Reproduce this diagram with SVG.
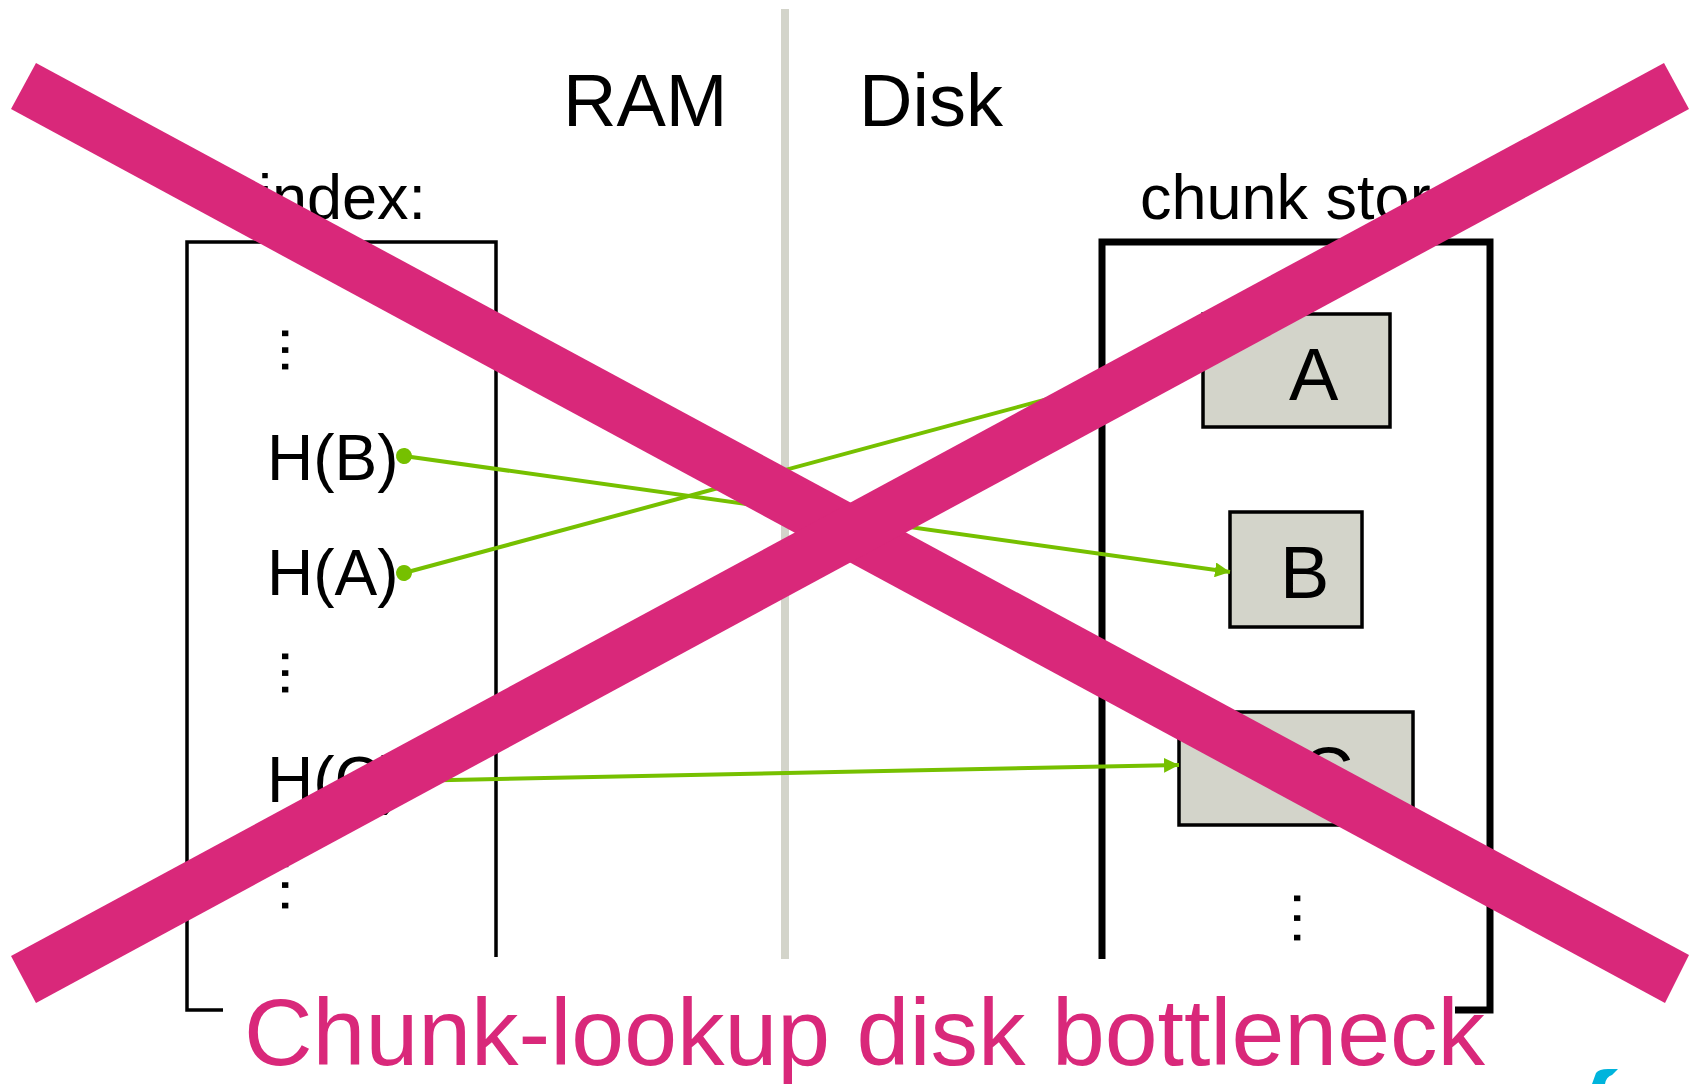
<svg xmlns="http://www.w3.org/2000/svg" width="1690" height="1084" viewBox="0 0 1690 1084">
  <style>
    text { font-family: "Liberation Sans", Arial, sans-serif; fill: #000; }
    .hdr { font-size: 74px; }
    .lbl { font-size: 63px; }
    .hash { font-size: 64px; }
    .dots { font-size: 60px; }
    .chunk-letter { font-size: 74px; }
    .frame { fill: none; stroke: #000; stroke-linejoin: miter; }
    .chunk { fill: #d3d4ca; stroke: #000; stroke-width: 3.5; }
    .ptr { fill: none; stroke: #76c000; stroke-width: 4; marker-start: url(#dot); marker-end: url(#arrow); }
    .cross { fill: #d9287a; }
    .caption { font-size: 95px; fill: #d9287a; }
  </style>
  <defs>
    <marker id="arrow" markerUnits="userSpaceOnUse" markerWidth="16" markerHeight="15" refX="15" refY="7.5" orient="auto">
      <path d="M0,0 L15,7.5 L0,15 Z" fill="#76c000"/>
    </marker>
    <marker id="dot" markerUnits="userSpaceOnUse" markerWidth="18" markerHeight="18" refX="9" refY="9" orient="auto">
      <circle cx="9" cy="9" r="8" fill="#76c000"/>
    </marker>
  </defs>

  <rect width="1690" height="1084" fill="#fff"/>

  <!-- RAM / Disk divider -->
  <g id="divider">
    <rect x="781" y="9" width="8" height="950" fill="#d3d4ca"/>
    <text class="hdr" x="563" y="126">RAM</text>
    <text class="hdr" x="859" y="126">Disk</text>
  </g>

  <!-- in-memory index -->
  <g id="index">
    <text class="lbl" x="258" y="219">index:</text>
    <path class="frame" stroke-width="3.5" d="M223,1010 H187 V242 H496 V957"/>
    <text class="dots" transform="rotate(90 282 325)" x="282" y="325">...</text>
    <text class="hash" x="267" y="480">H(B)</text>
    <text class="hash" x="267" y="595">H(A)</text>
    <text class="dots" transform="rotate(90 282 648)" x="282" y="648">...</text>
    <text class="hash" x="267" y="802">H(C)</text>
    <text class="dots" transform="rotate(90 282 856)" x="282" y="856" letter-spacing="4">...</text>
  </g>

  <!-- on-disk chunk store -->
  <g id="chunk-store">
    <text class="lbl" x="1140" y="219">chunk store:</text>
    <path class="frame" stroke-width="7" d="M1102,959 V242 H1490 V1010 H1455"/>
    <text class="dots" transform="rotate(90 1294 890)" x="1294" y="890" letter-spacing="3">...</text>
  </g>

  <g id="chunk-A">
    <rect class="chunk" x="1203" y="314" width="187" height="113"/>
    <text class="chunk-letter" x="1289" y="400">A</text>
  </g>
  <g id="chunk-B">
    <rect class="chunk" x="1230" y="512" width="132" height="115"/>
    <text class="chunk-letter" x="1280" y="598">B</text>
  </g>
  <g id="chunk-C">
    <rect class="chunk" x="1179" y="712" width="234" height="113"/>
    <text class="chunk-letter" x="1300" y="799">C</text>
  </g>

  <!-- index entries pointing to chunks -->
  <g id="connectors">
    <path class="ptr" d="M404,456 L1230,572"/>
    <path class="ptr" d="M404,573 L1203,357"/>
    <path class="ptr" d="M404,781 L1179,765"/>
  </g>

  <!-- strike-through -->
  <g id="cross">
    <polygon class="cross" points="36,63 1689,955 1665,1003 11,109"/>
    <polygon class="cross" points="1664,63 1689,109 36,1003 11,956"/>
  </g>

  <g id="caption">
    <text class="caption" x="244" y="1065">Chunk-lookup disk bottleneck</text>
  </g>

  <!-- corner logo fragment -->
  <path id="logo-fragment" d="M1592,1084 L1596,1073 Q1599,1069 1608,1069 L1618,1069 L1612,1075 Q1606,1077 1605,1084 Z" fill="#00b4dc"/>
</svg>
